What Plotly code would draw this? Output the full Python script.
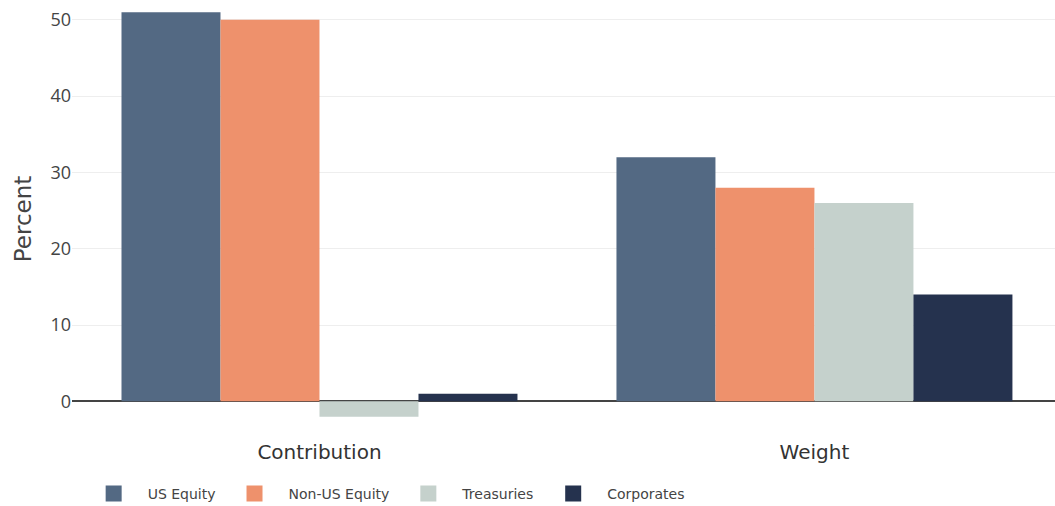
import plotly.graph_objects as go

categories = ["Contribution", "Weight"]
series_names = ["US Equity", "Non-US Equity", "Treasuries", "Corporates"]
us_equity = [51, 32]
non_us_equity = [50, 28]
treasuries = [-2, 26]
corporates = [1, 14]
colors = ["#536983", "#ee916c", "#c5d1cc", "#25324e"]

values = [us_equity, non_us_equity, treasuries, corporates]

fig = go.Figure()
for name, vals, col in zip(series_names, values, colors):
    fig.add_trace(go.Bar(x=categories, y=vals, name=name, legendgroup=name, showlegend=False,
                         marker=dict(color=col, line=dict(width=0))))
# legend swatches (square markers, no data)
for name, col in zip(series_names, colors):
    fig.add_trace(go.Scatter(x=[None], y=[None], mode="markers", name=name, legendgroup=name,
                             marker=dict(symbol="square", size=16, color=col)))

fig.update_layout(
    width=1055, height=506,
    margin=dict(l=72, r=0, t=0, b=68),
    barmode="group", bargap=0.2, bargroupgap=0,
    plot_bgcolor="white", paper_bgcolor="white",
    font=dict(family="Open Sans", color="#444"),
    legend=dict(orientation="h", xref="container", yref="container",
                x=0.0755, y=0.024, xanchor="left", yanchor="middle",
                itemwidth=58, itemsizing="trace",
                font=dict(family="DejaVu Sans", size=14, color="#444")),
    xaxis=dict(range=[-0.5, 1.486], showgrid=False,
               tickfont=dict(family="DejaVu Sans", size=20, color="#333")),
    yaxis=dict(range=[-4.8, 52.6], tickvals=[0, 10, 20, 30, 40, 50], gridcolor="#eeeeee",
               zeroline=True, zerolinecolor="#444", zerolinewidth=1.5,
               tickfont=dict(size=18, color="#444"),
               title=dict(text="Percent", font=dict(family="DejaVu Sans", size=23, color="#444"), standoff=12)),
)

fig.write_html("out.html")
